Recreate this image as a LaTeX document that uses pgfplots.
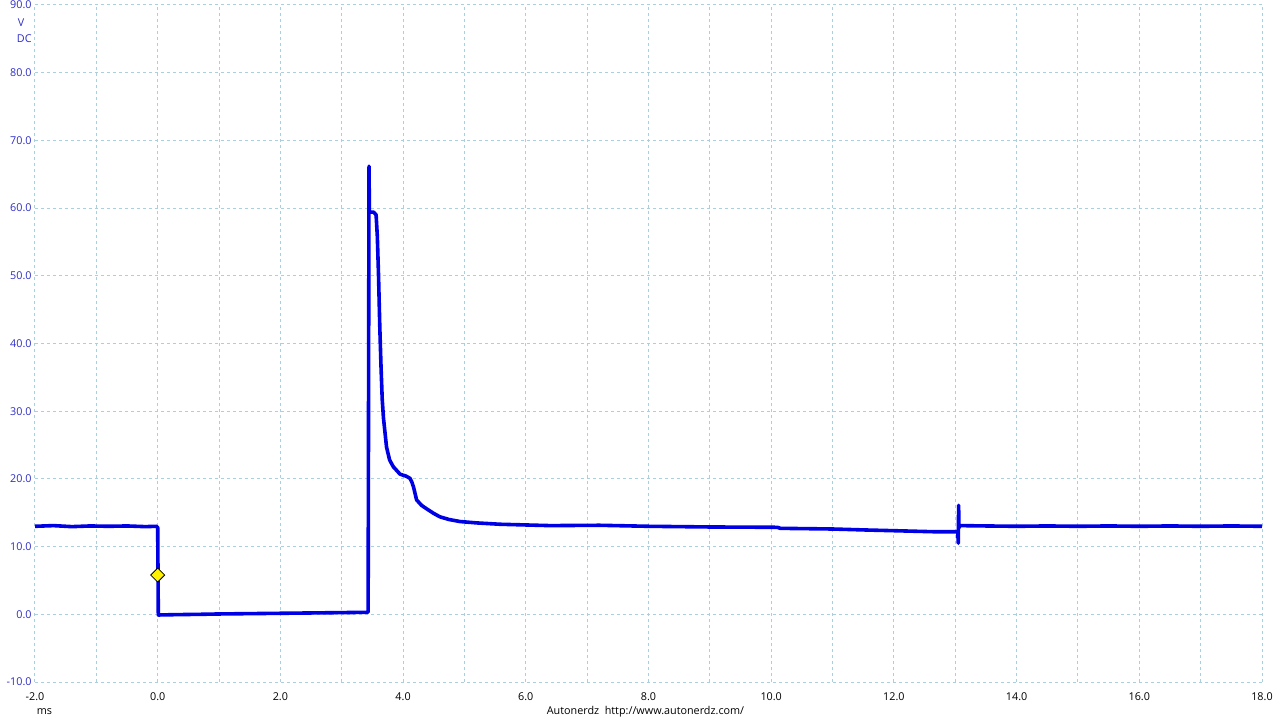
\documentclass[border=0pt]{standalone}
\usepackage{pgfplots}
\pgfplotsset{compat=1.18}
\usepackage{fontspec}
\setmainfont{Open Sans}
\definecolor{trace}{RGB}{0,0,228}
\definecolor{ylab}{RGB}{45,45,200}
\definecolor{gridc}{RGB}{170,208,224}
\newcommand{\lf}{\fontsize{5.4}{6}\selectfont}
\begin{document}
\begin{tikzpicture}
\begin{axis}[
  at={(0,0)}, anchor=south west,
  scale only axis, width=613.5pt, height=338.5pt,
  xmin=-2, xmax=18, ymin=-10, ymax=90,
  axis line style={draw=none},
  major tick length=0pt, minor tick length=0pt,
  xtick={-2,0,...,18}, minor xtick={-1,1,...,17},
  xticklabels={-2.0,0.0,2.0,4.0,6.0,8.0,10.0,12.0,14.0,16.0,18.0},
  ytick={-10,0,...,90},
  yticklabels={-10.0,0.0,10.0,20.0,30.0,40.0,50.0,60.0,70.0,80.0,90.0},
  grid=both,
  major grid style={gridc, dash pattern=on 1.5pt off 1.5pt, line width=0.5pt},
  minor grid style={gridc, dash pattern=on 1.5pt off 1.5pt, line width=0.5pt},
  xticklabel style={font=\lf, anchor=center, yshift=-7.2pt, inner sep=0pt},
  yticklabel style={font=\lf, text=ylab, anchor=east, xshift=-1.5pt, inner sep=0pt},
]
\addplot[trace, line width=1.8pt, line join=round] coordinates {
(-2.00,13.0) (-1.70,13.1) (-1.40,12.95) (-1.10,13.05) (-0.80,13.0) (-0.50,13.05) (-0.20,12.95) (-0.02,13.0)
(0.00,12.8) (0.01,-0.1) (0.30,-0.05) (0.70,0.0) (1.00,0.05) (1.50,0.1) (2.00,0.15) (2.50,0.2) (3.00,0.25) (3.43,0.3)
(3.44,46) (3.445,66.2) (3.45,59.4) (3.52,59.4) (3.56,59.0)
(3.58,55.8) (3.60,49.9) (3.62,42.5) (3.64,36.6) (3.66,31.7) (3.68,29.0) (3.73,24.7) (3.78,22.8)
(3.84,21.8) (3.95,20.7) (4.05,20.4) (4.11,20.1) (4.14,19.6) (4.17,18.8) (4.22,16.9) (4.30,16.1)
(4.38,15.6) (4.50,14.9) (4.60,14.4) (4.75,14.0) (4.93,13.7) (5.20,13.5) (5.58,13.3) (6.40,13.1)
(7.20,13.15) (8.00,13.0) (9.00,12.9) (10.10,12.85) (10.15,12.7) (11.00,12.6) (11.56,12.45) (12.00,12.35)
(12.64,12.2) (13.04,12.2) (13.05,10.5) (13.055,16.1) (13.06,12.8) (13.08,13.1)
(13.50,13.05) (14.00,13.0) (14.50,13.05) (15.00,13.0) (15.50,13.05) (16.00,13.0) (16.50,13.05) (17.00,13.0) (17.50,13.05) (18.00,13.0)
};
\addplot[only marks, mark=square*, mark size=2.47pt,
  mark options={rotate=45, fill=yellow, draw=black, line width=0.4pt}] coordinates {(0,5.8)};
\end{axis}
\node[font=\lf, text=ylab, inner sep=0pt] at (-7pt,329.5pt) {V};
\node[font=\lf, text=ylab, anchor=east, inner sep=0pt] at (-1.5pt,321.75pt) {DC};
\node[font=\lf, inner sep=0pt] at (4.75pt,-15pt) {ms};
\node[font=\lf, inner sep=0pt] at (305.25pt,-14.75pt) {Autonerdz\ \ http://www.autonerdz.com/};
\pgfresetboundingbox
\path (-17.5pt,-19pt) rectangle (622.5pt,341pt);
\end{tikzpicture}
\end{document}
